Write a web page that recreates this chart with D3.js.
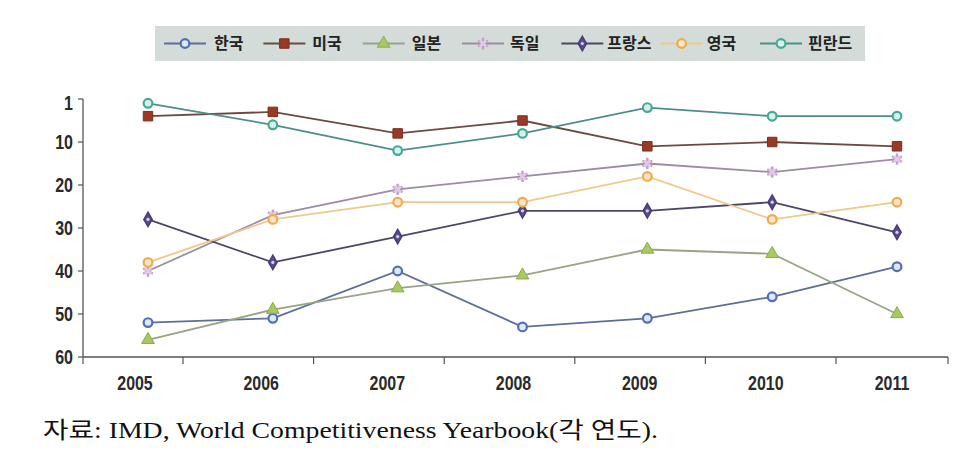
<!DOCTYPE html>
<html><head><meta charset="utf-8">
<script src="https://cdn.jsdelivr.net/npm/d3@7/dist/d3.min.js"></script>
<style>
body{margin:0;background:#fff;}
svg{display:block;}
</style></head>
<body>
<svg id="chart" width="976" height="450"></svg>
<script>
const years = ["2005","2006","2007","2008","2009","2010","2011"];
const yTicks = [1,10,20,30,40,50,60];
const seriesNames = ["한국","미국","일본","독일","프랑스","영국","핀란드"];
const korea   = [52,51,40,53,51,46,39];
const usa     = [4,3,8,5,11,10,11];
const japan   = [56,49,44,41,35,36,50];
const germany = [40,27,21,18,15,17,14];
const france  = [28,38,32,26,26,24,31];
const uk      = [38,28,24,24,18,28,24];
const finland = [1,6,12,8,2,4,4];
const sourceText = "자료: IMD, World Competitiveness Yearbook(각 연도).";

const seriesValues = [korea, usa, japan, germany, france, uk, finland];
const styles = [
  {line:"#5d6f96", stroke:"#4f6fb8", fill:"#dfe8f8", sym:"circle"},
  {line:"#6a4a42", stroke:"#7a3020", fill:"#9a3a25", sym:"square"},
  {line:"#98a488", stroke:"#8aaa50", fill:"#a8c860", sym:"triangle"},
  {line:"#9c8ca4", stroke:"#c49ccc", fill:"#e0c8e8", sym:"asterisk"},
  {line:"#4e4666", stroke:"#4a3c7a", fill:"#5a4c8c", sym:"diamond"},
  {line:"#f0c88c", stroke:"#f0aa50", fill:"#fde6c6", sym:"circle"},
  {line:"#4e8e8a", stroke:"#48a898", fill:"#d6f0ea", sym:"circle"}
];

const svg = d3.select("#chart");
const axisColor = "#555";
const narrowFont = "'Liberation Sans','Arial',sans-serif";

const y = d3.scaleLinear().domain([0,60]).range([99,357]);
const xPt = d3.scalePoint().domain(years).range([148,897]);
const xLab = d3.scalePoint().domain(years).range([135,892]);
const xBand = d3.scaleBand().domain(years).range([52.4,966.6]);
const xAxisEnds = [83,948];

// Y axis
const gy = svg.append("g");
gy.append("line").attr("x1",83).attr("x2",83).attr("y1",y(0)).attr("y2",y(60))
  .attr("stroke",axisColor).attr("stroke-width",1.3);
gy.selectAll("line.t").data([0].concat(yTicks.slice(1))).enter().append("line")
  .attr("x1",78).attr("x2",83).attr("y1",d=>y(d)).attr("y2",d=>y(d))
  .attr("stroke",axisColor).attr("stroke-width",1.2);
gy.selectAll("text").data(yTicks).enter().append("text")
  .attr("transform",d=>`translate(73,${y(d)+7}) scale(0.8,1)`)
  .attr("text-anchor","end")
  .style("font-family",narrowFont)
  .style("font-weight","bold").style("font-size","20px").style("fill","#2a2a2a")
  .text(d=>d);

// X axis
const gx = svg.append("g");
gx.append("line").attr("x1",xAxisEnds[0]).attr("x2",xAxisEnds[1]).attr("y1",357).attr("y2",357)
  .attr("stroke",axisColor).attr("stroke-width",1.3);
const tickXs = years.slice(1).map(d=>xBand(d)).concat(xAxisEnds);
gx.selectAll("line.t").data(tickXs).enter().append("line")
  .attr("x1",d=>d).attr("x2",d=>d).attr("y1",357).attr("y2",364)
  .attr("stroke",axisColor).attr("stroke-width",1.2);
gx.selectAll("text").data(years).enter().append("text")
  .attr("transform",d=>`translate(${xLab(d)},390) scale(0.76,1)`)
  .attr("text-anchor","middle")
  .style("font-family",narrowFont)
  .style("font-weight","bold").style("font-size","21px").style("fill","#2a2a2a")
  .text(d=>d);

function symbolPath(kind){
  const map = {circle:[d3.symbolCircle,60], square:[d3.symbolSquare,90], triangle:[d3.symbolTriangle,70],
    asterisk:[d3.symbolAsterisk,90], diamond:[d3.symbolDiamond,60]};
  const m = map[kind];
  return d3.symbol().type(m[0]).size(m[1])();
}
function drawMarker(g, st, cx, cy){
  const p = g.append("path").attr("d",symbolPath(st.sym)).attr("transform",`translate(${cx},${cy})`);
  if(st.sym==="circle"){
    p.attr("fill",st.fill).attr("stroke",st.stroke).attr("stroke-width",2.2);
  } else if(st.sym==="asterisk"){
    p.attr("fill","none").attr("stroke",st.stroke).attr("stroke-width",2.4);
    g.append("path").attr("d",d3.symbol().type(d3.symbolCross).size(40)()).attr("transform",`translate(${cx},${cy}) rotate(45)`)
      .attr("fill",st.fill).attr("stroke","none");
  } else if(st.sym==="diamond"){
    p.attr("fill",st.fill).attr("stroke",st.stroke).attr("stroke-width",1.5);
    g.append("circle").attr("cx",cx).attr("cy",cy).attr("r",1.6).attr("fill","#d8d0ec");
  } else {
    p.attr("fill",st.fill).attr("stroke",st.stroke).attr("stroke-width",1);
  }
}

// Lines
const line = d3.line().x((d,i)=>xPt(years[i])).y(d=>y(d));
const gl = svg.append("g");
seriesValues.forEach((vals,si)=>{
  gl.append("path").attr("d",line(vals)).attr("fill","none")
    .attr("stroke",styles[si].line).attr("stroke-width",1.8);
});
const gm = svg.append("g");
seriesValues.forEach((vals,si)=>{
  vals.forEach((v,i)=>drawMarker(gm, styles[si], xPt(years[i]), y(v)));
});

// Legend
const leg = svg.append("g");
leg.append("rect").attr("x",155).attr("y",26).attr("width",710).attr("height",35)
  .attr("fill","#d3dcd8");
const legX = d3.scalePoint().domain(seriesNames).range([164,760]);
const legTextOffsets = [50,49,49,48,46,46,48];
seriesNames.forEach((n,i)=>{
  const x0 = legX(n);
  const g = leg.append("g");
  g.append("line").attr("x1",x0).attr("x2",x0+42).attr("y1",43.5).attr("y2",43.5)
    .attr("stroke",styles[i].line).attr("stroke-width",1.8);
  drawMarker(g, styles[i], x0+21, 43.5);
  g.append("text").attr("x",x0+legTextOffsets[i]).attr("y",43.5).attr("dy","0.36em")
    .style("font-family","'Noto Sans CJK KR',sans-serif").style("font-weight","bold")
    .style("font-size","16px").style("fill","#222").text(n);
});

// Source
svg.append("text").attr("x",43).attr("y",438)
  .attr("textLength",615).attr("lengthAdjust","spacingAndGlyphs")
  .style("font-family","'Liberation Serif','Noto Sans CJK KR',serif")
  .style("font-size","23px").style("fill","#111")
  .text(sourceText);
</script>
</body></html>
